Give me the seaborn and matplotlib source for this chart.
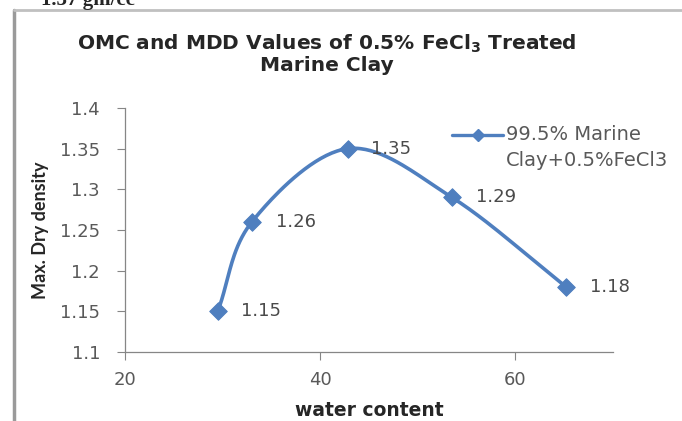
import numpy as np
import matplotlib
matplotlib.use("Agg")
import matplotlib.pyplot as plt
import seaborn as sns
from matplotlib.lines import Line2D

# data
water_content = [29.5, 33.0, 42.8, 53.5, 65.2]
dry_density = [1.15, 1.26, 1.35, 1.29, 1.18]
series_name = "99.5% Marine\nClay+0.5%FeCl3"
y_ticks = [1.1, 1.15, 1.2, 1.25, 1.3, 1.35, 1.4]
x_ticks = [20, 40, 60]

blue = "#4F7FBF"
grey = "#595959"


def smooth(xs, ys, n=40):
    # Catmull-Rom style smoothing like Excel's "smoothed line"
    xs, ys = np.asarray(xs, float), np.asarray(ys, float)
    px = np.concatenate([[2 * xs[0] - xs[1]], xs, [2 * xs[-1] - xs[-2]]])
    py = np.concatenate([[2 * ys[0] - ys[1]], ys, [2 * ys[-1] - ys[-2]]])
    outx, outy = [], []
    t = np.linspace(0, 1, n)
    for i in range(1, len(px) - 2):
        for p, out in ((px, outx), (py, outy)):
            p0, p1, p2, p3 = p[i - 1], p[i], p[i + 1], p[i + 2]
            out.extend(0.5 * (2 * p1 + (-p0 + p2) * t
                              + (2 * p0 - 5 * p1 + 4 * p2 - p3) * t ** 2
                              + (-p0 + 3 * p1 - 3 * p2 + p3) * t ** 3))
    return outx, outy


sns.set_style("white")
plt.rcParams["font.family"] = ["DejaVu Sans"]

fig = plt.figure(figsize=(6.82, 4.21), dpi=100)
ax = fig.add_axes([0.1833, 0.1639, 0.7157, 0.5796])

sx, sy = smooth(water_content, dry_density)
sns.lineplot(x=sx, y=sy, ax=ax, color=blue, linewidth=2.6, sort=False)
sns.scatterplot(x=water_content, y=dry_density, ax=ax, marker="D", s=80,
                color=blue, edgecolor=blue, zorder=3)

for x, y in zip(water_content, dry_density):
    ax.annotate(f"{y:.2f}", (x, y), xytext=(17, 0), textcoords="offset points",
                va="center", ha="left", fontsize=13, color="#4a4a4a")

ax.set_xlim(20, 70)
ax.set_ylim(1.1, 1.4)
ax.set_xticks(x_ticks)
ax.set_yticks(y_ticks)
ax.set_yticklabels([f"{v:g}" for v in y_ticks])
ax.tick_params(axis="both", colors="#868686", labelcolor=grey, labelsize=13,
               length=6, width=0.8, direction="out", left=True, bottom=True)
ax.tick_params(axis="y", pad=12)
ax.tick_params(axis="x", pad=8)
for s in ["top", "right"]:
    ax.spines[s].set_visible(False)
for s in ["left", "bottom"]:
    ax.spines[s].set_color("#868686")
    ax.spines[s].set_linewidth(0.9)

ax.set_xlabel("water content", fontsize=13.5, fontweight="bold", color="#262626",
              labelpad=8)
ax.set_ylabel("Max. Dry density", fontsize=13, fontweight="bold", color="#262626",
              family=["Lato", "DejaVu Sans"], labelpad=8)

leg_handle = Line2D([], [], color=blue, linewidth=2.4, marker="D", markersize=6)
leg = ax.legend([leg_handle], [series_name], loc="upper left",
                bbox_to_anchor=(0.635, 1.0), frameon=False, fontsize=14,
                labelcolor=grey, handlelength=2.6, handletextpad=0.15)
for t in leg.get_texts():
    t.set_linespacing(1.45)
# put the legend line beside the first text line, as in the original
for ln in leg.get_lines():
    ln.set_ydata(np.asarray(ln.get_ydata()) + 10)

fig.text(0.479, 0.872, "OMC and MDD Values of 0.5% FeCl$_\\mathbf{3}$ Treated\nMarine Clay",
         ha="center", va="center", fontsize=14.5, fontweight="bold",
         color="#262626", linespacing=1.1)

# chart frame and the cut-off text above it
fig.add_artist(Line2D([14 / 682, 14 / 682], [0, 1 - 10 / 421], color="#9a9a9a",
                      linewidth=2.5, transform=fig.transFigure))
fig.add_artist(Line2D([14 / 682, 1], [1 - 10 / 421, 1 - 10 / 421], color="#c0c0c0",
                      linewidth=2.0, transform=fig.transFigure))
fig.text(0.06, 1.0, "1.37 gm/cc", ha="left", va="center", fontsize=15,
         fontweight="bold", family=["Liberation Serif", "DejaVu Serif"])

fig.savefig("out.png", dpi=100)
